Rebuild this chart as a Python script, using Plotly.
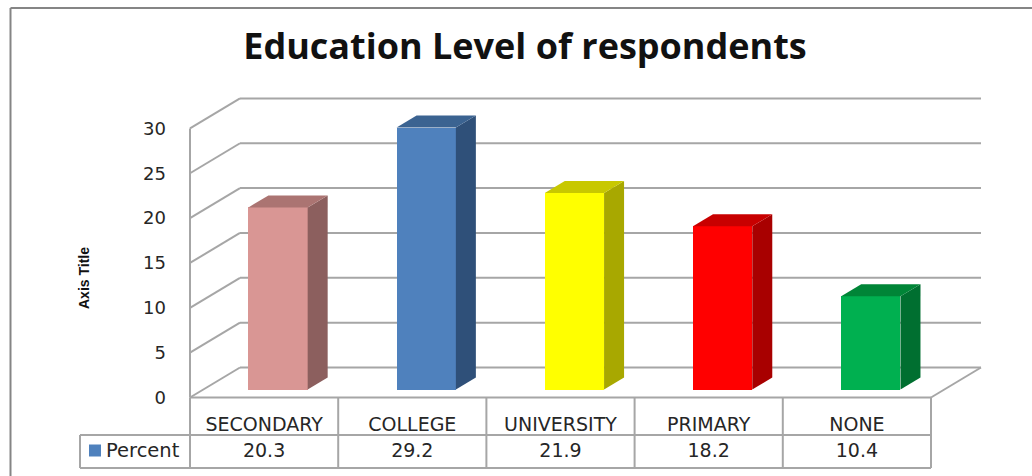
import plotly.graph_objects as go

categories = ["SECONDARY", "COLLEGE", "UNIVERSITY", "PRIMARY", "NONE"]
percent = [20.3, 29.2, 21.9, 18.2, 10.4]
front_colors = ["#D99694", "#4F81BD", "#FFFF00", "#FF0000", "#00B050"]
top_colors = ["#AB7472", "#3B6391", "#C8C800", "#C80000", "#008537"]
side_colors = ["#8C5F5E", "#2F5079", "#A8A800", "#A80000", "#006F30"]
y_ticks = [0, 5, 10, 15, 20, 25, 30]
series_name = "Percent"
title_text = "Education Level of respondents"
y_title = "Axis Title"

W, H = 1032, 476
X0, Y0 = 190.0, 397.5       # pixel of category edge 0 / value 0
UX, UY = 148.2, 8.97        # pixels per category / per value unit
WALL_DX, WALL_DY = 50 / UX, 30 / UY
BAR_W = 0.40
BAR_OFF_X, BAR_OFF_Y = 0.094, 8 / UY
BAR_DX, BAR_DY = 20 / UX, 12 / UY
LINE = "#a6a6a6"
TEXT = "#262626"
FONT = "DejaVu Sans"

def line(x0, y0, x1, y1):
    return dict(type="line", xref="x", yref="y", x0=x0, y0=y0, x1=x1, y1=y1,
                layer="below", line=dict(color=LINE, width=2))

n = len(categories)
shapes = []
for t in y_ticks:
    shapes.append(line(0, t, WALL_DX, t + WALL_DY))
    shapes.append(line(WALL_DX, t + WALL_DY, n + WALL_DX, t + WALL_DY))
shapes.append(line(0, 0, 0, max(y_ticks)))
shapes.append(line(n, 0, n + WALL_DX, WALL_DY))

ROW1, ROW2 = -37.5 / UY, -70.5 / UY
ROW_TEXT = -54.5 / UY
LEG_X = -110 / UX
shapes.append(line(0, 0, n, 0))
shapes.append(line(LEG_X, ROW1, n, ROW1))
shapes.append(line(LEG_X, ROW2, n, ROW2))
shapes.append(line(LEG_X, ROW1, LEG_X, ROW2))
for i in range(n + 1):
    shapes.append(line(i, 0, i, ROW2))

shapes += [
    dict(type="line", xref="paper", yref="paper", x0=10.5 / W, x1=1, y0=1 - 8 / H, y1=1 - 8 / H,
         line=dict(color="#858585", width=2)),
    dict(type="line", xref="paper", yref="paper", x0=10.5 / W, x1=10.5 / W, y0=0, y1=1 - 8 / H,
         line=dict(color="#858585", width=2)),
]

fig = go.Figure()
fig.add_trace(go.Bar(
    x=[i + 0.5 + BAR_OFF_X for i in range(n)], y=percent, base=BAR_OFF_Y, width=BAR_W,
    marker=dict(color=front_colors, line=dict(width=0)), showlegend=False,
))
for i, v in enumerate(percent):
    l = i + 0.5 + BAR_OFF_X - BAR_W / 2
    r = l + BAR_W
    b = BAR_OFF_Y
    t = b + v
    fig.add_trace(go.Scatter(
        x=[r, r + BAR_DX, r + BAR_DX, r, r], y=[b, b + BAR_DY, t + BAR_DY, t, b],
        mode="lines", fill="toself", fillcolor=side_colors[i], line=dict(width=0), showlegend=False))
    fig.add_trace(go.Scatter(
        x=[l, l + BAR_DX, r + BAR_DX, r, l], y=[t, t + BAR_DY, t + BAR_DY, t, t],
        mode="lines", fill="toself", fillcolor=top_colors[i], line=dict(width=0), showlegend=False))

# data-table value row
fig.add_trace(go.Scatter(
    x=[i + 0.5 for i in range(n)], y=[ROW_TEXT] * n, mode="text",
    text=[str(v) for v in percent], textposition="middle center",
    textfont=dict(family=FONT, size=19, color=TEXT), showlegend=False))
# legend key inside the data table
fig.add_trace(go.Scatter(
    x=[-95 / UX], y=[-53 / UY], mode="markers", name=series_name,
    marker=dict(symbol="square", size=12, color="#4F81BD"), showlegend=False))
fig.add_trace(go.Scatter(
    x=[-84 / UX], y=[ROW_TEXT], mode="text", text=[series_name], textposition="middle right",
    textfont=dict(family=FONT, size=19.5, color=TEXT), showlegend=False))

fig.update_layout(
    width=W, height=H, margin=dict(l=0, r=0, t=0, b=0, pad=0, autoexpand=False),
    paper_bgcolor="white", plot_bgcolor="white", shapes=shapes, showlegend=False,
    title=dict(text=f"<b>{title_text}</b>", x=525 / W, xanchor="center", y=1 - 46 / H, yanchor="middle",
               font=dict(family="Open Sans", size=36, color="#111111")),
    xaxis=dict(range=[-X0 / UX, (W - X0) / UX], domain=[0, 1], anchor="free", position=1 - 398 / H,
               tickmode="array", tickvals=[i + 0.5 for i in range(n)], ticktext=categories,
               ticks="", showgrid=False, zeroline=False, showline=False, ticklabelstandoff=13,
               tickfont=dict(family=FONT, size=19, color=TEXT)),
    yaxis=dict(range=[(Y0 - H) / UY, Y0 / UY], domain=[0, 1], anchor="free", position=189 / W,
               tickmode="array", tickvals=y_ticks, ticks="", showgrid=False, zeroline=False, showline=False,
               ticklabelstandoff=23, tickfont=dict(family=FONT, size=18, color=TEXT)),
    annotations=[dict(text=f"<b>{y_title}</b>", xref="paper", yref="paper", x=84 / W, y=1 - 278 / H,
                      showarrow=False, textangle=-90, xanchor="center", yanchor="middle",
                      font=dict(family="Liberation Sans", size=14, color="#111111"))],
    bargap=0,
)
fig.write_html("out.html", config={"displayModeBar": False},
               post_script="document.body.style.margin='0';")
